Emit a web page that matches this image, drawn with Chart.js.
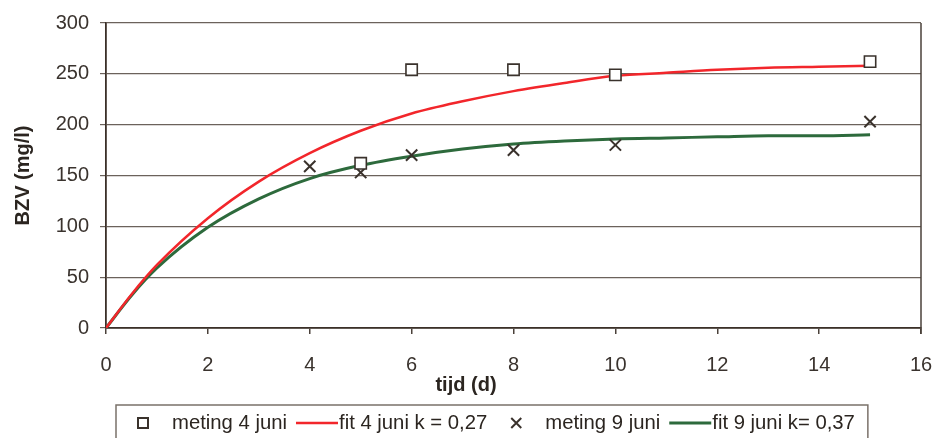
<!DOCTYPE html>
<html lang="nl">

<head>
    <meta charset="UTF-8">
    <title>BZV meting en fit</title>
    <script src="https://cdn.jsdelivr.net/npm/chart.js"></script>
    <style>
        html, body {
            margin: 0;
            padding: 0;
            background: #fff;
        }

        .wrap {
            width: 940px;
            height: 438px;
        }
    </style>
</head>

<body>
    <div class="wrap"><canvas id="bzv" width="940" height="438"></canvas></div>
    <script>
        const meting4Days = [5, 6, 8, 10, 15];
        const meting4Bzv = [162, 254, 254, 249, 262];
        const meting9Days = [4, 5, 6, 8, 10, 15];
        const meting9Bzv = [159, 153, 170, 175, 180, 203];

        // fitted curves
        const fitDays = [0, 0.5, 1, 2, 3, 4, 5, 6, 7, 8, 9, 10, 11, 12, 13, 14, 15];
        const fit4Bzv = [0, 33, 62, 108, 144, 172, 194, 211, 223, 233, 241, 248, 251, 254, 256, 257, 258];
        const fit9Bzv = [0, 32, 59, 99, 127, 147, 160, 169, 176, 181, 184, 186, 187, 188, 189, 189, 190];

        const xTicks = [0, 2, 4, 6, 8, 10, 12, 14, 16];
        const yTicks = [0, 50, 100, 150, 200, 250, 300];
        const labels = ['meting 4 juni', 'fit 4 juni k = 0,27', 'meting 9 juni', 'fit 9 juni k= 0,37'];
        const xTitle = 'tijd (d)';
        const yTitle = 'BZV (mg/l)';

        const FONT = '"Liberation Sans", Arial, sans-serif';
        const INK = '#2b2520';
        const GRID = '#6b625b';

        function pts(xs, ys) {
            return xs.map((x, i) => ({ x: x, y: ys[i] }));
        }

        // right border, x-title and the boxed legend under the plot
        const extras = {
            id: 'extras',
            afterDraw(chart) {
                const { ctx, chartArea: a } = chart;
                ctx.save();
                ctx.strokeStyle = '#4a413a';
                ctx.lineWidth = 1.5;
                ctx.beginPath();
                ctx.moveTo(a.right, a.top);
                ctx.lineTo(a.right, a.bottom + 6);
                ctx.stroke();

                ctx.fillStyle = INK;
                ctx.font = 'bold 20px ' + FONT;
                ctx.textAlign = 'center';
                ctx.textBaseline = 'middle';
                ctx.fillText(xTitle, 466, 385);

                const ly = 423;
                let cursor = 114;
                ctx.font = '20.3px ' + FONT;
                ctx.textAlign = 'left';
                chart.data.datasets.forEach((ds) => {
                    let tx;
                    if (ds.showLine === false) {
                        const cx = cursor + 29;
                        ctx.strokeStyle = ds.borderColor;
                        ctx.lineWidth = 2;
                        ctx.beginPath();
                        if (ds.pointStyle === 'rect') {
                            ctx.fillStyle = '#fff';
                            ctx.rect(cx - 5, ly - 5, 10, 10);
                            ctx.fill();
                        } else {
                            ctx.moveTo(cx - 5, ly - 5);
                            ctx.lineTo(cx + 5, ly + 5);
                            ctx.moveTo(cx + 5, ly - 5);
                            ctx.lineTo(cx - 5, ly + 5);
                        }
                        ctx.stroke();
                        tx = cx + 29;
                    } else {
                        const x0 = cursor + 9;
                        ctx.strokeStyle = ds.borderColor;
                        ctx.lineWidth = ds.borderWidth;
                        ctx.beginPath();
                        ctx.moveTo(x0, ly);
                        ctx.lineTo(x0 + 42, ly);
                        ctx.stroke();
                        tx = x0 + 43;
                    }
                    ctx.fillStyle = INK;
                    ctx.fillText(ds.label, tx, ly);
                    cursor = tx + ctx.measureText(ds.label).width;
                });
                ctx.strokeStyle = '#7a716a';
                ctx.lineWidth = 1.5;
                ctx.strokeRect(116, 405, cursor + 13 - 116, 45);
                ctx.restore();
            }
        };

        new Chart(document.getElementById('bzv'), {
            type: 'line',
            data: {
                datasets: [{
                    label: labels[0],
                    data: pts(meting4Days, meting4Bzv),
                    showLine: false,
                    pointStyle: 'rect',
                    pointRadius: 8,
                    pointBackgroundColor: '#fff',
                    pointBorderColor: '#3a322c',
                    pointBorderWidth: 1.6,
                    borderColor: '#3a322c',
                    order: 0
                }, {
                    label: labels[1],
                    data: pts(fitDays, fit4Bzv),
                    borderColor: '#f2262b',
                    borderWidth: 2.5,
                    pointRadius: 0,
                    cubicInterpolationMode: 'monotone',
                    order: 2
                }, {
                    label: labels[2],
                    data: pts(meting9Days, meting9Bzv),
                    showLine: false,
                    pointStyle: 'crossRot',
                    pointRadius: 8,
                    pointBorderColor: '#3a322c',
                    pointBorderWidth: 2,
                    borderColor: '#3a322c',
                    order: 1
                }, {
                    label: labels[3],
                    data: pts(fitDays, fit9Bzv),
                    borderColor: '#2d6a3c',
                    borderWidth: 3,
                    pointRadius: 0,
                    cubicInterpolationMode: 'monotone',
                    order: 3
                }]
            },
            options: {
                responsive: false,
                animation: false,
                layout: { padding: { top: 22, right: 19, bottom: 46, left: 0 } },
                plugins: {
                    legend: { display: false },
                    tooltip: { enabled: false }
                },
                scales: {
                    x: {
                        type: 'linear',
                        min: 0,
                        max: 16,
                        afterBuildTicks: (s) => { s.ticks = xTicks.map(v => ({ value: v })); },
                        afterFit: (s) => {
                            s.height = 64;
                            s.paddingLeft = 0;
                            s.paddingRight = 0;
                        },
                        ticks: { color: '#3a332e', font: { family: FONT, size: 20 }, padding: 19, maxRotation: 0 },
                        grid: { drawOnChartArea: false, color: '#4a413a', tickLength: 6, lineWidth: 1.5 },
                        border: { color: '#3b3029', width: 1.8 }
                    },
                    y: {
                        min: 0,
                        max: 300,
                        afterBuildTicks: (s) => { s.ticks = yTicks.map(v => ({ value: v })); },
                        afterFit: (s) => { s.width = 106; },
                        ticks: { color: '#3a332e', font: { family: FONT, size: 20 }, padding: 11 },
                        grid: { color: GRID, lineWidth: 1.2, tickLength: 6 },
                        border: { color: '#3b3029', width: 1.8 },
                        title: {
                            display: true,
                            text: yTitle,
                            color: INK,
                            font: { family: FONT, size: 20, weight: 'bold' },
                            padding: { top: 11, bottom: 0 }
                        }
                    }
                }
            },
            plugins: [extras]
        });
    </script>
</body>

</html>
